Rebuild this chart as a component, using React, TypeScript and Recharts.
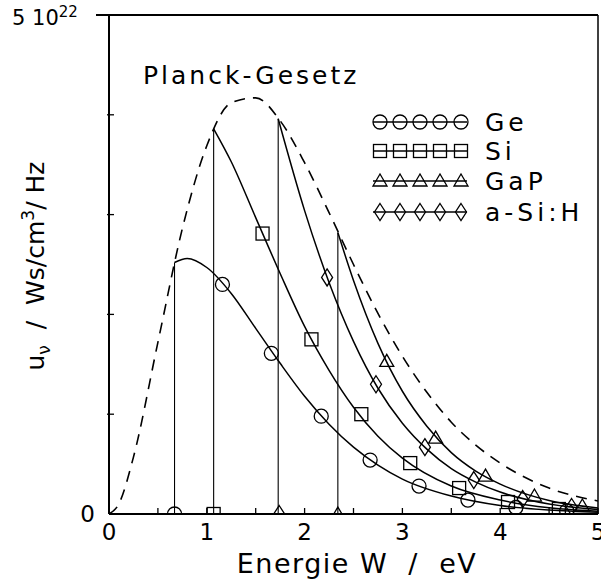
import React from "react";
import { ComposedChart, Line, Scatter, XAxis, YAxis, ReferenceLine } from "recharts";

// energy in eV, spectral density in 1e22 Ws/cm^3/Hz
const xTicks = [0, 0.5, 1, 1.5, 2, 2.5, 3, 3.5, 4, 4.5, 5];
const yTicks = [0, 1, 2, 3, 4, 5];

const planck = [
  [0, 0], [0.1, 0.1], [0.25, 0.57], [0.5, 1.72], [0.75, 2.86], [1.0, 3.69],
  [1.25, 4.12], [1.5, 4.17], [1.75, 3.94], [2.0, 3.52], [2.25, 3.02], [2.5, 2.5],
  [2.75, 2.01], [3.0, 1.58], [3.25, 1.22], [3.5, 0.92], [3.75, 0.69], [4.0, 0.51],
  [4.5, 0.26], [5.0, 0.13],
];

const geCurve = [
  [0.67, 2.52], [0.8, 2.56], [1.0, 2.47], [1.25, 2.21], [1.5, 1.86], [1.75, 1.51],
  [2.0, 1.18], [2.25, 0.9], [2.5, 0.67], [2.75, 0.49], [3.0, 0.35], [3.5, 0.18],
  [4.0, 0.085], [4.5, 0.039], [5.0, 0.017],
];
const siCurve = [
  [1.07, 3.86], [1.25, 3.53], [1.5, 2.97], [1.75, 2.41], [2.0, 1.88], [2.25, 1.44],
  [2.5, 1.07], [2.75, 0.78], [3.0, 0.56], [3.5, 0.28], [4.0, 0.14], [4.5, 0.062],
  [5.0, 0.028],
];
const gapCurve = [
  [2.34, 2.82], [2.5, 2.34], [2.75, 1.71], [3.0, 1.23], [3.25, 0.88], [3.5, 0.615],
  [3.75, 0.43], [4.0, 0.3], [4.5, 0.135], [5.0, 0.061],
];
const asihCurve = [
  [1.73, 3.96], [2.0, 3.04], [2.25, 2.32], [2.5, 1.73], [2.75, 1.26], [3.0, 0.91],
  [3.25, 0.65], [3.5, 0.455], [3.75, 0.32], [4.0, 0.22], [4.5, 0.1], [5.0, 0.045],
];

const geMarks = [[0.67, 0], [1.16, 2.3], [1.66, 1.61], [2.17, 0.98], [2.67, 0.54], [3.17, 0.28], [3.67, 0.14], [4.16, 0.065], [4.68, 0.03]];
const siMarks = [[1.07, 0], [1.57, 2.81], [2.07, 1.75], [2.58, 1.0], [3.08, 0.51], [3.58, 0.26], [4.08, 0.12], [4.6, 0.05]];
const gapMarks = [[2.34, 0], [2.84, 1.53], [3.34, 0.76], [3.85, 0.38], [4.35, 0.18], [4.84, 0.08]];
const asihMarks = [[1.74, 0], [2.23, 2.37], [2.73, 1.3], [3.23, 0.67], [3.73, 0.34], [4.23, 0.15], [4.73, 0.07]];

const legendNames = ["Ge", "Si", "GaP", "a-Si:H"];

const pts = (a: number[][]) => a.map(([x, y]) => ({ x, y }));
const edge = (c: number[][]) => [{ x: c[0][0], y: 0 }, { x: c[0][0], y: c[0][1] }];

const FONT = "DejaVu Sans";

function Mark({ kind, cx, cy }: { kind: string; cx: number; cy: number }) {
  const s = { fill: "none", stroke: "#000", strokeWidth: 1.3 };
  if (kind === "Ge") return <circle cx={cx} cy={cy} r={7} {...s} />;
  if (kind === "Si") return <rect x={cx - 6.5} y={cy - 6.5} width={13} height={13} {...s} />;
  if (kind === "GaP")
    return <polygon points={`${cx - 7},${cy + 5} ${cx + 7},${cy + 5} ${cx},${cy - 7}`} {...s} />;
  return <polygon points={`${cx},${cy - 8.5} ${cx + 5.5},${cy} ${cx},${cy + 8.5} ${cx - 5.5},${cy}`} {...s} />;
}

const shape = (kind: string) => (p: any) => <Mark kind={kind} cx={p.cx} cy={p.cy} />;

function XTick(p: any) {
  const v = p.payload.value;
  return (
    <g>
      <line x1={p.x} x2={p.x} y1={p.y} y2={p.y - 6} stroke="#000" strokeWidth={1.3} />
      {Number.isInteger(v) && (
        <text x={p.x} y={p.y + 26} textAnchor="middle" fontSize={23} fontFamily={FONT}>
          {v}
        </text>
      )}
    </g>
  );
}

function YTick(p: any) {
  const v = p.payload.value;
  if (v === 0)
    return (
      <text x={95} y={p.y + 8} textAnchor="end" fontSize={23} fontFamily={FONT}>
        0
      </text>
    );
  if (v === 5)
    return (
      <text x={12} y={p.y + 10} fontSize={21} fontFamily={FONT}>
        5 10<tspan fontSize={15} dy={-8}>22</tspan>
      </text>
    );
  return <line x1={p.x - 2} x2={p.x + 5} y1={p.y} y2={p.y} stroke="#000" strokeWidth={1.3} />;
}

export default function App() {
  const rows = [122, 151, 181, 212];
  return (
    <div style={{ position: "absolute", left: 0, top: 0, width: 601, height: 586, background: "#fff" }}>
      <ComposedChart width={601} height={586} margin={{ top: 15, right: 3, left: 0, bottom: 0 }}>
        <XAxis
          dataKey="x"
          type="number"
          domain={[0, 5]}
          ticks={xTicks}
          interval={0}
          height={72}
          tickSize={0}
          tickMargin={0}
          tick={<XTick />}
          axisLine={{ stroke: "#000", strokeWidth: 2 }}
          allowDataOverflow
        />
        <YAxis
          type="number"
          domain={[0, 5]}
          ticks={yTicks}
          interval={0}
          width={109}
          tickSize={0}
          tickMargin={0}
          tick={<YTick />}
          axisLine={{ stroke: "#000", strokeWidth: 2 }}
          allowDataOverflow
        />
        <ReferenceLine y={5} stroke="#000" strokeWidth={2} />
        <ReferenceLine x={5} stroke="#000" strokeWidth={1.5} />

        <Line data={pts(planck)} dataKey="y" type="monotone" stroke="#000" strokeWidth={1.6}
          strokeDasharray="11 8" dot={false} isAnimationActive={false} />

        {[geCurve, siCurve, gapCurve, asihCurve].map((c, i) => (
          <Line key={"e" + i} data={edge(c)} dataKey="y" type="linear" stroke="#000"
            strokeWidth={1.1} dot={false} isAnimationActive={false} />
        ))}
        {[geCurve, siCurve, gapCurve, asihCurve].map((c, i) => (
          <Line key={"c" + i} data={pts(c)} dataKey="y" type="monotone" stroke="#000"
            strokeWidth={1.5} dot={false} isAnimationActive={false} />
        ))}

        <Scatter data={pts(geMarks)} dataKey="y" shape={shape("Ge")} isAnimationActive={false} />
        <Scatter data={pts(siMarks)} dataKey="y" shape={shape("Si")} isAnimationActive={false} />
        <Scatter data={pts(gapMarks)} dataKey="y" shape={shape("GaP")} isAnimationActive={false} />
        <Scatter data={pts(asihMarks)} dataKey="y" shape={shape("a-Si:H")} isAnimationActive={false} />
      </ComposedChart>

      <svg width={601} height={586} style={{ position: "absolute", left: 0, top: 0, pointerEvents: "none" }}>
        <line x1={96} x2={110} y1={15} y2={15} stroke="#000" strokeWidth={2} />
        <text x={143} y={84} fontSize={25} fontFamily={FONT} letterSpacing={3}>
          Planck-Gesetz
        </text>
        {legendNames.map((n, i) => (
          <g key={n}>
            <line x1={373} x2={467} y1={rows[i]} y2={rows[i]} stroke="#000" strokeWidth={1.3} />
            {[380, 400, 420, 440, 461].map((mx) => (
              <Mark key={mx} kind={n} cx={mx} cy={rows[i]} />
            ))}
            <text x={485} y={rows[i] + 9} fontSize={25} fontFamily={FONT} letterSpacing={4}>
              {n}
            </text>
          </g>
        ))}
        <text x={357} y={573} textAnchor="middle" fontSize={27} fontFamily={FONT} letterSpacing={1.5} xmlSpace="preserve">
          Energie W  /  eV
        </text>
        <text transform="translate(44,266) rotate(-90)" textAnchor="middle" fontSize={25} fontFamily={FONT} xmlSpace="preserve">
          u<tspan fontSize={17} dy={6}>ν</tspan>
          <tspan dy={-6}>  /  Ws/cm</tspan>
          <tspan fontSize={17} dy={-10}>3</tspan>
          <tspan dy={10}>/ Hz</tspan>
        </text>
      </svg>
    </div>
  );
}
